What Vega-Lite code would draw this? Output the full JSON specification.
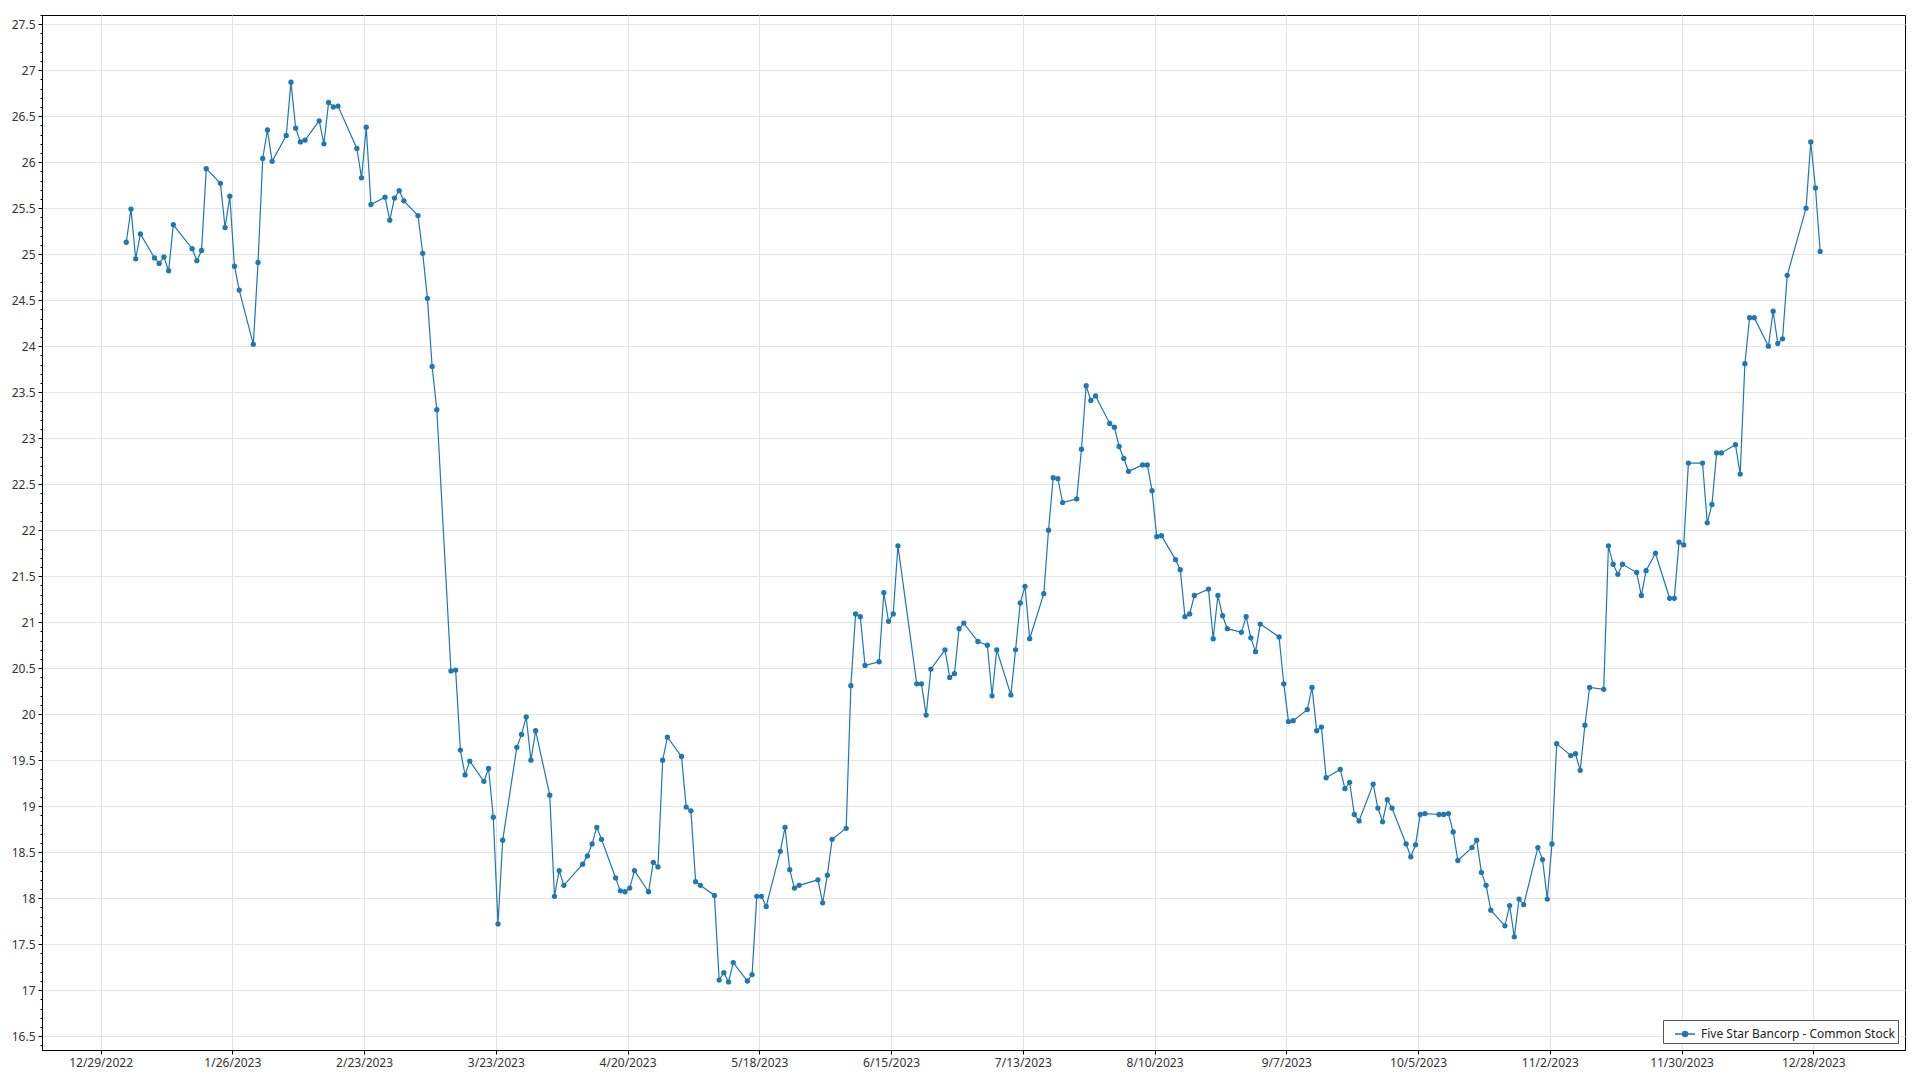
{
  "$schema": "https://vega.github.io/schema/vega-lite/v6.json",
  "width": 1863,
  "height": 1035,
  "autosize": {"type": "none"},
  "padding": {"left": 42, "top": 15, "right": 15, "bottom": 30},
  "background": "white",
  "config": {
    "view": {"stroke": "#000000", "strokeWidth": 1},
    "font": "Noto Sans",
    "axis": {
      "labelFont": "Noto Sans",
      "labelFontSize": 12,
      "labelColor": "#333333",
      "domainColor": "#000000",
      "domainWidth": 1,
      "tickColor": "#000000",
      "gridColor": "#e3e3e3",
      "gridWidth": 1,
      "title": null
    }
  },
  "data": {
    "values": [
      {"date": "2023-01-03", "price": 25.13}, {"date": "2023-01-04", "price": 25.49}, {"date": "2023-01-05", "price": 24.95}, {"date": "2023-01-06", "price": 25.22},
      {"date": "2023-01-09", "price": 24.96}, {"date": "2023-01-10", "price": 24.90}, {"date": "2023-01-11", "price": 24.97}, {"date": "2023-01-12", "price": 24.82}, {"date": "2023-01-13", "price": 25.32},
      {"date": "2023-01-17", "price": 25.06}, {"date": "2023-01-18", "price": 24.93}, {"date": "2023-01-19", "price": 25.04}, {"date": "2023-01-20", "price": 25.93},
      {"date": "2023-01-23", "price": 25.77}, {"date": "2023-01-24", "price": 25.29}, {"date": "2023-01-25", "price": 25.63}, {"date": "2023-01-26", "price": 24.87}, {"date": "2023-01-27", "price": 24.61},
      {"date": "2023-01-30", "price": 24.02}, {"date": "2023-01-31", "price": 24.91},
      {"date": "2023-02-01", "price": 26.04}, {"date": "2023-02-02", "price": 26.35}, {"date": "2023-02-03", "price": 26.01},
      {"date": "2023-02-06", "price": 26.29}, {"date": "2023-02-07", "price": 26.87}, {"date": "2023-02-08", "price": 26.37}, {"date": "2023-02-09", "price": 26.22}, {"date": "2023-02-10", "price": 26.24},
      {"date": "2023-02-13", "price": 26.45}, {"date": "2023-02-14", "price": 26.20}, {"date": "2023-02-15", "price": 26.65}, {"date": "2023-02-16", "price": 26.60}, {"date": "2023-02-17", "price": 26.61},
      {"date": "2023-02-21", "price": 26.15}, {"date": "2023-02-22", "price": 25.83}, {"date": "2023-02-23", "price": 26.38}, {"date": "2023-02-24", "price": 25.54},
      {"date": "2023-02-27", "price": 25.62}, {"date": "2023-02-28", "price": 25.37},
      {"date": "2023-03-01", "price": 25.61}, {"date": "2023-03-02", "price": 25.69}, {"date": "2023-03-03", "price": 25.58},
      {"date": "2023-03-06", "price": 25.42}, {"date": "2023-03-07", "price": 25.01}, {"date": "2023-03-08", "price": 24.52}, {"date": "2023-03-09", "price": 23.78}, {"date": "2023-03-10", "price": 23.31},
      {"date": "2023-03-13", "price": 20.47}, {"date": "2023-03-14", "price": 20.48}, {"date": "2023-03-15", "price": 19.61}, {"date": "2023-03-16", "price": 19.34}, {"date": "2023-03-17", "price": 19.49},
      {"date": "2023-03-20", "price": 19.27}, {"date": "2023-03-21", "price": 19.41}, {"date": "2023-03-22", "price": 18.88}, {"date": "2023-03-23", "price": 17.72}, {"date": "2023-03-24", "price": 18.63},
      {"date": "2023-03-27", "price": 19.64}, {"date": "2023-03-28", "price": 19.78}, {"date": "2023-03-29", "price": 19.97}, {"date": "2023-03-30", "price": 19.50}, {"date": "2023-03-31", "price": 19.82},
      {"date": "2023-04-03", "price": 19.12}, {"date": "2023-04-04", "price": 18.02}, {"date": "2023-04-05", "price": 18.30}, {"date": "2023-04-06", "price": 18.14},
      {"date": "2023-04-10", "price": 18.37}, {"date": "2023-04-11", "price": 18.46}, {"date": "2023-04-12", "price": 18.59}, {"date": "2023-04-13", "price": 18.77}, {"date": "2023-04-14", "price": 18.64},
      {"date": "2023-04-17", "price": 18.22}, {"date": "2023-04-18", "price": 18.08}, {"date": "2023-04-19", "price": 18.07}, {"date": "2023-04-20", "price": 18.11}, {"date": "2023-04-21", "price": 18.30},
      {"date": "2023-04-24", "price": 18.07}, {"date": "2023-04-25", "price": 18.39}, {"date": "2023-04-26", "price": 18.34}, {"date": "2023-04-27", "price": 19.50}, {"date": "2023-04-28", "price": 19.75},
      {"date": "2023-05-01", "price": 19.54}, {"date": "2023-05-02", "price": 18.99}, {"date": "2023-05-03", "price": 18.95}, {"date": "2023-05-04", "price": 18.18}, {"date": "2023-05-05", "price": 18.14},
      {"date": "2023-05-08", "price": 18.03}, {"date": "2023-05-09", "price": 17.11}, {"date": "2023-05-10", "price": 17.19}, {"date": "2023-05-11", "price": 17.09}, {"date": "2023-05-12", "price": 17.30},
      {"date": "2023-05-15", "price": 17.10}, {"date": "2023-05-16", "price": 17.17}, {"date": "2023-05-17", "price": 18.02}, {"date": "2023-05-18", "price": 18.02}, {"date": "2023-05-19", "price": 17.91},
      {"date": "2023-05-22", "price": 18.51}, {"date": "2023-05-23", "price": 18.77}, {"date": "2023-05-24", "price": 18.31}, {"date": "2023-05-25", "price": 18.11}, {"date": "2023-05-26", "price": 18.14},
      {"date": "2023-05-30", "price": 18.20}, {"date": "2023-05-31", "price": 17.95},
      {"date": "2023-06-01", "price": 18.25}, {"date": "2023-06-02", "price": 18.64},
      {"date": "2023-06-05", "price": 18.76}, {"date": "2023-06-06", "price": 20.31}, {"date": "2023-06-07", "price": 21.09}, {"date": "2023-06-08", "price": 21.06}, {"date": "2023-06-09", "price": 20.53},
      {"date": "2023-06-12", "price": 20.57}, {"date": "2023-06-13", "price": 21.32}, {"date": "2023-06-14", "price": 21.01}, {"date": "2023-06-15", "price": 21.09}, {"date": "2023-06-16", "price": 21.83},
      {"date": "2023-06-20", "price": 20.33}, {"date": "2023-06-21", "price": 20.33}, {"date": "2023-06-22", "price": 19.99}, {"date": "2023-06-23", "price": 20.49},
      {"date": "2023-06-26", "price": 20.70}, {"date": "2023-06-27", "price": 20.40}, {"date": "2023-06-28", "price": 20.44}, {"date": "2023-06-29", "price": 20.93}, {"date": "2023-06-30", "price": 20.99},
      {"date": "2023-07-03", "price": 20.79}, {"date": "2023-07-05", "price": 20.75}, {"date": "2023-07-06", "price": 20.20}, {"date": "2023-07-07", "price": 20.70},
      {"date": "2023-07-10", "price": 20.21}, {"date": "2023-07-11", "price": 20.70}, {"date": "2023-07-12", "price": 21.21}, {"date": "2023-07-13", "price": 21.39}, {"date": "2023-07-14", "price": 20.82},
      {"date": "2023-07-17", "price": 21.31}, {"date": "2023-07-18", "price": 22.00}, {"date": "2023-07-19", "price": 22.57}, {"date": "2023-07-20", "price": 22.56}, {"date": "2023-07-21", "price": 22.30},
      {"date": "2023-07-24", "price": 22.34}, {"date": "2023-07-25", "price": 22.88}, {"date": "2023-07-26", "price": 23.57}, {"date": "2023-07-27", "price": 23.41}, {"date": "2023-07-28", "price": 23.46},
      {"date": "2023-07-31", "price": 23.16},
      {"date": "2023-08-01", "price": 23.12}, {"date": "2023-08-02", "price": 22.91}, {"date": "2023-08-03", "price": 22.78}, {"date": "2023-08-04", "price": 22.64},
      {"date": "2023-08-07", "price": 22.71}, {"date": "2023-08-08", "price": 22.71}, {"date": "2023-08-09", "price": 22.43}, {"date": "2023-08-10", "price": 21.93}, {"date": "2023-08-11", "price": 21.94},
      {"date": "2023-08-14", "price": 21.68}, {"date": "2023-08-15", "price": 21.57}, {"date": "2023-08-16", "price": 21.06}, {"date": "2023-08-17", "price": 21.09}, {"date": "2023-08-18", "price": 21.29},
      {"date": "2023-08-21", "price": 21.36}, {"date": "2023-08-22", "price": 20.82}, {"date": "2023-08-23", "price": 21.29}, {"date": "2023-08-24", "price": 21.07}, {"date": "2023-08-25", "price": 20.93},
      {"date": "2023-08-28", "price": 20.89}, {"date": "2023-08-29", "price": 21.06}, {"date": "2023-08-30", "price": 20.83}, {"date": "2023-08-31", "price": 20.68},
      {"date": "2023-09-01", "price": 20.98},
      {"date": "2023-09-05", "price": 20.84}, {"date": "2023-09-06", "price": 20.33}, {"date": "2023-09-07", "price": 19.92}, {"date": "2023-09-08", "price": 19.93},
      {"date": "2023-09-11", "price": 20.05}, {"date": "2023-09-12", "price": 20.29}, {"date": "2023-09-13", "price": 19.82}, {"date": "2023-09-14", "price": 19.86}, {"date": "2023-09-15", "price": 19.31},
      {"date": "2023-09-18", "price": 19.40}, {"date": "2023-09-19", "price": 19.19}, {"date": "2023-09-20", "price": 19.26}, {"date": "2023-09-21", "price": 18.91}, {"date": "2023-09-22", "price": 18.84},
      {"date": "2023-09-25", "price": 19.24}, {"date": "2023-09-26", "price": 18.98}, {"date": "2023-09-27", "price": 18.83}, {"date": "2023-09-28", "price": 19.07}, {"date": "2023-09-29", "price": 18.98},
      {"date": "2023-10-02", "price": 18.59}, {"date": "2023-10-03", "price": 18.45}, {"date": "2023-10-04", "price": 18.58}, {"date": "2023-10-05", "price": 18.91}, {"date": "2023-10-06", "price": 18.92},
      {"date": "2023-10-09", "price": 18.91}, {"date": "2023-10-10", "price": 18.91}, {"date": "2023-10-11", "price": 18.92}, {"date": "2023-10-12", "price": 18.72}, {"date": "2023-10-13", "price": 18.41},
      {"date": "2023-10-16", "price": 18.55}, {"date": "2023-10-17", "price": 18.63}, {"date": "2023-10-18", "price": 18.28}, {"date": "2023-10-19", "price": 18.14}, {"date": "2023-10-20", "price": 17.87},
      {"date": "2023-10-23", "price": 17.70}, {"date": "2023-10-24", "price": 17.92}, {"date": "2023-10-25", "price": 17.58}, {"date": "2023-10-26", "price": 17.99}, {"date": "2023-10-27", "price": 17.93},
      {"date": "2023-10-30", "price": 18.55}, {"date": "2023-10-31", "price": 18.42},
      {"date": "2023-11-01", "price": 17.99}, {"date": "2023-11-02", "price": 18.59}, {"date": "2023-11-03", "price": 19.68},
      {"date": "2023-11-06", "price": 19.55}, {"date": "2023-11-07", "price": 19.57}, {"date": "2023-11-08", "price": 19.39}, {"date": "2023-11-09", "price": 19.88}, {"date": "2023-11-10", "price": 20.29},
      {"date": "2023-11-13", "price": 20.27}, {"date": "2023-11-14", "price": 21.83}, {"date": "2023-11-15", "price": 21.63}, {"date": "2023-11-16", "price": 21.52}, {"date": "2023-11-17", "price": 21.63},
      {"date": "2023-11-20", "price": 21.54}, {"date": "2023-11-21", "price": 21.29}, {"date": "2023-11-22", "price": 21.56}, {"date": "2023-11-24", "price": 21.75},
      {"date": "2023-11-27", "price": 21.26}, {"date": "2023-11-28", "price": 21.26}, {"date": "2023-11-29", "price": 21.87}, {"date": "2023-11-30", "price": 21.84},
      {"date": "2023-12-01", "price": 22.73},
      {"date": "2023-12-04", "price": 22.73}, {"date": "2023-12-05", "price": 22.08}, {"date": "2023-12-06", "price": 22.28}, {"date": "2023-12-07", "price": 22.84}, {"date": "2023-12-08", "price": 22.84},
      {"date": "2023-12-11", "price": 22.93}, {"date": "2023-12-12", "price": 22.61}, {"date": "2023-12-13", "price": 23.81}, {"date": "2023-12-14", "price": 24.31}, {"date": "2023-12-15", "price": 24.31},
      {"date": "2023-12-18", "price": 24.00}, {"date": "2023-12-19", "price": 24.38}, {"date": "2023-12-20", "price": 24.03}, {"date": "2023-12-21", "price": 24.08}, {"date": "2023-12-22", "price": 24.77},
      {"date": "2023-12-26", "price": 25.50}, {"date": "2023-12-27", "price": 26.22}, {"date": "2023-12-28", "price": 25.72}, {"date": "2023-12-29", "price": 25.03}
    ]
  },
  "encoding": {
    "x": {
      "field": "date",
      "type": "temporal",
      "scale": {
        "type": "utc",
        "domain": [
          {"year": 2022, "month": 12, "date": 16, "hours": 2, "minutes": 7, "utc": true},
          {"year": 2024, "month": 1, "date": 16, "hours": 0, "minutes": 42, "utc": true}
        ]
      },
      "axis": {
        "values": [
          {"year": 2022, "month": 12, "date": 28, "hours": 13, "utc": true},
          {"year": 2023, "month": 1, "date": 25, "hours": 13, "utc": true},
          {"year": 2023, "month": 2, "date": 22, "hours": 13, "utc": true},
          {"year": 2023, "month": 3, "date": 22, "hours": 13, "utc": true},
          {"year": 2023, "month": 4, "date": 19, "hours": 13, "utc": true},
          {"year": 2023, "month": 5, "date": 17, "hours": 13, "utc": true},
          {"year": 2023, "month": 6, "date": 14, "hours": 13, "utc": true},
          {"year": 2023, "month": 7, "date": 12, "hours": 13, "utc": true},
          {"year": 2023, "month": 8, "date": 9, "hours": 13, "utc": true},
          {"year": 2023, "month": 9, "date": 6, "hours": 13, "utc": true},
          {"year": 2023, "month": 10, "date": 4, "hours": 13, "utc": true},
          {"year": 2023, "month": 11, "date": 1, "hours": 13, "utc": true},
          {"year": 2023, "month": 11, "date": 29, "hours": 13, "utc": true},
          {"year": 2023, "month": 12, "date": 27, "hours": 13, "utc": true}
        ],
        "labelExpr": "utcFormat(datum.value + 39600000, '%-m/%-d/%Y')",
        "tickSize": 4,
        "labelPadding": 3,
        "labelFlush": false,
        "labelOverlap": false,
        "grid": true
      }
    },
    "y": {
      "field": "price",
      "type": "quantitative",
      "scale": {"domain": [16.35, 27.6], "zero": false, "nice": false},
      "axis": {
        "values": [16.4,16.5,16.6,16.7,16.8,16.9,17,17.1,17.2,17.3,17.4,17.5,17.6,17.7,17.8,17.9,18,18.1,18.2,18.3,18.4,18.5,18.6,18.7,18.8,18.9,19,19.1,19.2,19.3,19.4,19.5,19.6,19.7,19.8,19.9,20,20.1,20.2,20.3,20.4,20.5,20.6,20.7,20.8,20.9,21,21.1,21.2,21.3,21.4,21.5,21.6,21.7,21.8,21.9,22,22.1,22.2,22.3,22.4,22.5,22.6,22.7,22.8,22.9,23,23.1,23.2,23.3,23.4,23.5,23.6,23.7,23.8,23.9,24,24.1,24.2,24.3,24.4,24.5,24.6,24.7,24.8,24.9,25,25.1,25.2,25.3,25.4,25.5,25.6,25.7,25.8,25.9,26,26.1,26.2,26.3,26.4,26.5,26.6,26.7,26.8,26.9,27,27.1,27.2,27.3,27.4,27.5,27.6],
        "labelExpr": "abs(datum.value * 2 - round(datum.value * 2)) < 0.001 ? format(datum.value, '~g') : ''",
        "tickSize": {"condition": {"test": "abs(datum.value * 2 - round(datum.value * 2)) < 0.001", "value": 4}, "value": 2},
        "gridOpacity": {"condition": {"test": "abs(datum.value * 2 - round(datum.value * 2)) < 0.001", "value": 1}, "value": 0},
        "labelPadding": 3,
        "labelFlush": false,
        "labelOverlap": false,
        "grid": true
      }
    }
  },
  "layer": [
    {
      "mark": {"type": "line", "color": "#1f77b4", "strokeWidth": 1.2}
    },
    {
      "mark": {"type": "point", "filled": true, "size": 28, "opacity": 1},
      "encoding": {
        "color": {
          "datum": "Five Star Bancorp - Common Stock",
          "scale": {"range": ["#1f77b4"]},
          "legend": {
            "title": null,
            "orient": "bottom-right",
            "offset": 7,
            "padding": 3,
            "strokeColor": "#555555",
            "fillColor": "#ffffff",
            "symbolType": "M -1 0 L 1 0 M 0.25 0 A 0.25 0.25 0 1 1 -0.25 0 A 0.25 0.25 0 1 1 0.25 0 Z",
            "symbolSize": 400,
            "symbolStrokeColor": "#1f77b4",
            "symbolFillColor": "#1f77b4",
            "symbolStrokeWidth": 1.5,
            "symbolOffset": 8,
            "labelFont": "Noto Sans",
            "labelFontSize": 12,
            "labelColor": "#222222",
            "labelOffset": 5,
            "labelLimit": 400
          }
        }
      }
    }
  ]
}
